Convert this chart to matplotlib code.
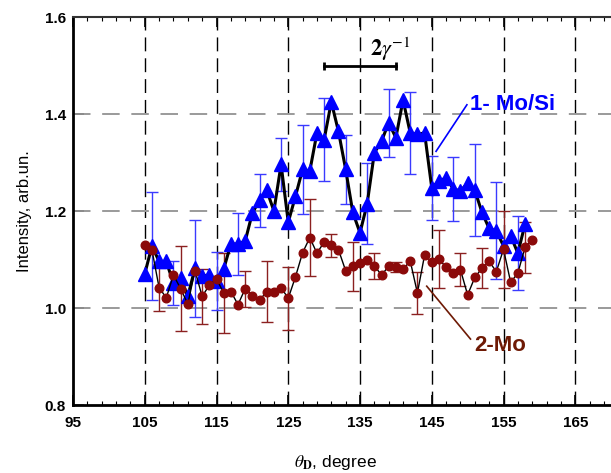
import numpy as np
import matplotlib
matplotlib.use("Agg")
import matplotlib.pyplot as plt

plt.rcParams['font.family'] = ['Liberation Sans', 'DejaVu Sans']
plt.rcParams['mathtext.fontset'] = 'stix'

# ---------------- data ----------------
theta_mosi = list(range(105, 159))
int_mosi = [1.070, 1.128, 1.096, 1.096, 1.051, 1.062, 1.024, 1.082, 1.066, 1.068,
            1.056, 1.080, 1.132, 1.132, 1.138, 1.196, 1.222, 1.243, 1.200, 1.296,
            1.177, 1.230, 1.286, 1.282, 1.361, 1.347, 1.425, 1.364, 1.286, 1.197,
            1.155, 1.215, 1.320, 1.344, 1.382, 1.351, 1.429, 1.361, 1.358, 1.361,
            1.248, 1.262, 1.268, 1.246, 1.241, 1.258, 1.243, 1.197, 1.164, 1.159,
            1.128, 1.149, 1.113, 1.173]
err_theta_mosi = [106, 109, 112, 115, 118, 121, 124, 127, 130, 133, 136, 139, 142,
                  145, 148, 151, 154, 157]
err_mosi = [0.112, 0.045, 0.100, 0.060, 0.064, 0.055, 0.055, 0.092, 0.085, 0.071,
            0.083, 0.070, 0.084, 0.066, 0.066, 0.095, 0.100, 0.076]

theta_mo = list(range(105, 160))
int_mo = [1.129, 1.120, 1.042, 1.021, 1.068, 1.040, 1.008, 1.077, 1.024, 1.047,
          1.060, 1.031, 1.034, 1.007, 1.040, 1.025, 1.016, 1.034, 1.032, 1.042,
          1.020, 1.064, 1.114, 1.145, 1.113, 1.136, 1.129, 1.120, 1.077, 1.086,
          1.093, 1.099, 1.087, 1.068, 1.086, 1.084, 1.080, 1.097, 1.031, 1.109,
          1.095, 1.101, 1.084, 1.073, 1.079, 1.027, 1.063, 1.082, 1.096, 1.075,
          1.121, 1.053, 1.072, 1.125, 1.140]
err_theta_mo = [107, 110, 113, 116, 119, 122, 125, 128, 131, 134, 137, 140, 143,
                146, 149, 152, 155, 158]
err_mo = [0.049, 0.088, 0.056, 0.083, 0.037, 0.062, 0.065, 0.080, 0.023, 0.051,
          0.027, 0.010, 0.043, 0.060, 0.034, 0.041, 0.080, 0.052]

xticks = [95, 105, 115, 125, 135, 145, 155, 165]
yticks = [0.8, 1.0, 1.2, 1.4, 1.6]
gamma_bar = [130, 140]
gamma_bar_y = 1.50

label_mosi = "1- Mo/Si"
label_mo = "2-Mo"

# ---------------- figure ----------------
fig = plt.figure(figsize=(6.11, 4.73), dpi=100)
ax = fig.add_axes([73 / 611, 68 / 473, 574 / 611, 388 / 473])
ax.set_xlim(95, 175)
ax.set_ylim(0.8, 1.6)

# grid
for xv in xticks[1:]:
    ax.axvline(xv, color='black', lw=1.0, dashes=(10, 5), zorder=1)
for yv in yticks[1:-1]:
    ax.axhline(yv, color='#9a9a9a', lw=1.4, dashes=(9, 6), zorder=1)

# error bars
lookup_mosi = dict(zip(theta_mosi, int_mosi))
lookup_mo = dict(zip(theta_mo, int_mo))
ax.errorbar(err_theta_mosi, [lookup_mosi[t] for t in err_theta_mosi], yerr=err_mosi,
            fmt='none', ecolor='#3a3aff', elinewidth=1.0, capsize=4.5, capthick=1.0, zorder=2)
ax.errorbar(err_theta_mo, [lookup_mo[t] for t in err_theta_mo], yerr=err_mo,
            fmt='none', ecolor='#8b2020', elinewidth=1.0, capsize=4.5, capthick=1.0, zorder=2)

# series
ax.plot(theta_mosi, int_mosi, color='black', lw=2.2, zorder=3)
ax.plot(theta_mosi, int_mosi, ls='none', marker='^', ms=10.5, mfc='#0000ff',
        mec='#0000ff', zorder=4)
ax.plot(theta_mo, int_mo, color='black', lw=1.0, zorder=5)
ax.plot(theta_mo, int_mo, ls='none', marker='o', ms=6.2, mfc='#8b0a0a',
        mec='#8b0a0a', zorder=6)

# 2 gamma^-1 bar
ax.plot(gamma_bar, [gamma_bar_y, gamma_bar_y], color='black', lw=2.0, zorder=5)
ax.plot(gamma_bar, [gamma_bar_y, gamma_bar_y], ls='none', marker='|', ms=6,
        mew=2.0, color='black', zorder=5)
ax.text(136.4, 1.533, r'$\mathbf{2}\gamma^{-1}$', fontsize=16, ha='left', va='center',
        color='black')

# annotations
ax.text(150.3, 1.42, label_mosi, fontsize=16, fontweight='bold', color='#0000ff',
        ha='left', va='center')
ax.plot([145.6, 149.9], [1.323, 1.419], color='#0000ff', lw=1.2, zorder=5)
ax.text(150.9, 0.922, label_mo, fontsize=16, fontweight='bold', color='#6e1a05',
        ha='left', va='center')
ax.plot([144.3, 150.4], [1.045, 0.936], color='#6e1a05', lw=1.2, zorder=5)

# axes styling
ax.set_xticks(xticks)
ax.set_yticks(yticks)
ax.set_xticks(np.arange(95, 176, 2), minor=True)
ax.tick_params(axis='x', which='major', direction='in', length=7, width=1.2,
               top=True, labelsize=11, pad=8)
ax.tick_params(axis='x', which='minor', direction='in', length=3, width=0.8, top=True)
ax.tick_params(axis='y', which='major', direction='in', length=8, width=1.2,
               color='#888888', labelsize=11, pad=5)
for lbl in ax.get_xticklabels() + ax.get_yticklabels():
    lbl.set_fontweight('bold')
ax.yaxis.set_major_formatter(matplotlib.ticker.FormatStrFormatter('%.1f'))

for side in ['left', 'bottom']:
    ax.spines[side].set_linewidth(2.0)
ax.spines['top'].set_linewidth(1.5)
ax.spines['top'].set_color('#333333')

ax.set_ylabel('Intensity, arb.un.', fontsize=12, labelpad=9)
fig.text(335 / 611, 1 - 462 / 473, r'$\theta_{\mathbf{D}}$, degree', fontsize=12.5,
         ha='center', va='center')

fig.savefig('out.png', dpi=100)
